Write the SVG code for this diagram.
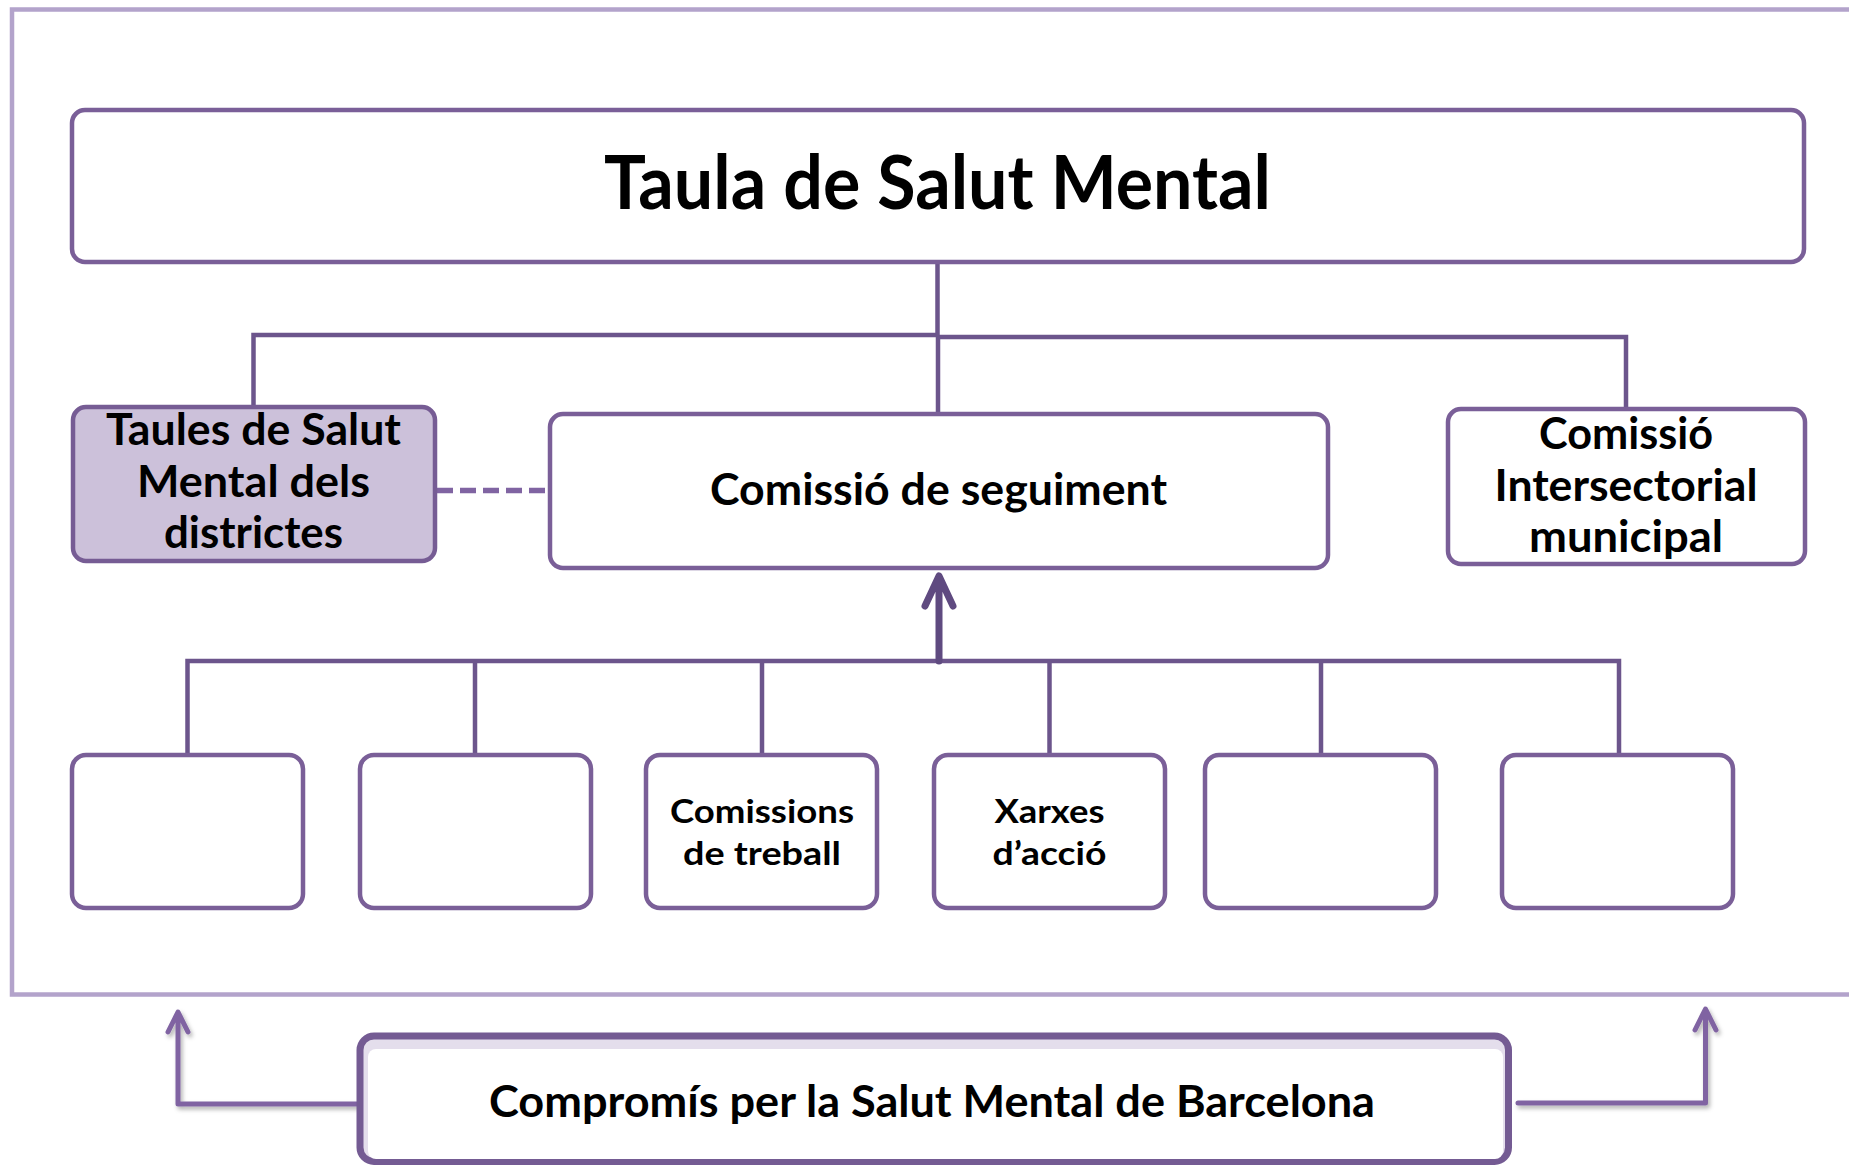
<svg xmlns="http://www.w3.org/2000/svg" width="1849" height="1169" viewBox="0 0 1849 1169">
<defs>
<style>
.box{fill:#ffffff;stroke:#7a5f98;stroke-width:4.5}
.dist{fill:#ccc1da;stroke:#765c94;stroke-width:4.5}
.conn{fill:none;stroke:#6c558c;stroke-width:4.5}
.t{font-family:Lato,"Open Sans","Liberation Sans",sans-serif;font-weight:700;fill:#000000;text-anchor:middle}
.big{font-size:74px}
.mid{font-size:44px}
.sm{font-size:33px}
.ext{fill:none;stroke:#8064a2;stroke-width:5;stroke-linecap:round;stroke-linejoin:round}
</style>
<filter id="sh" x="-20%" y="-20%" width="140%" height="140%">
<feDropShadow dx="2" dy="3" stdDeviation="2" flood-color="#000000" flood-opacity="0.3"/>
</filter>
</defs>
<rect width="1849" height="1169" fill="#ffffff"/>
<rect id="frame" x="12" y="9.5" width="1900" height="985" fill="none" stroke="#b3a3cb" stroke-width="4.5"/>

<g id="connectors">
<path class="conn" d="M937.5,262 V335 M253.5,407 V335 H938 M938,337 H1626 V409 M938,335 V414"/>
<path d="M437,490.5 H547" fill="none" stroke="#8064a2" stroke-width="5.5" stroke-dasharray="16,7"/>
<path class="conn" d="M187.5,755 V661 H1619 V755 M475,661 V755 M762,661 V755 M1049.5,661 V755 M1321,661 V755"/>
<path d="M939,661 V578 M925,606 L939,576 L953,606" fill="none" stroke="#5f4a80" stroke-width="7" stroke-linecap="round" stroke-linejoin="round"/>
<g filter="url(#sh)">
<path class="ext" d="M357,1104 H178 V1013 M168,1032 L178,1012 L188,1032"/>
<path class="ext" d="M1518,1103 H1705.5 V1010 M1695,1030 L1705.5,1009 L1716,1030"/>
</g>
</g>

<g id="taula">
<rect class="box" x="72" y="110" width="1732" height="152" rx="13"/>
<text class="t big" x="937.5" y="209" textLength="667" lengthAdjust="spacingAndGlyphs">Taula de Salut Mental</text>
</g>

<g id="districtes">
<rect class="dist" x="73" y="407" width="362" height="154" rx="13"/>
<text class="t mid" x="253.5" y="445" textLength="295" lengthAdjust="spacingAndGlyphs">Taules de Salut</text>
<text class="t mid" x="253.5" y="497" textLength="233" lengthAdjust="spacingAndGlyphs">Mental dels</text>
<text class="t mid" x="253.5" y="548" textLength="179" lengthAdjust="spacingAndGlyphs">districtes</text>
</g>

<g id="seguiment">
<rect class="box" x="550" y="414" width="778" height="154" rx="13"/>
<text class="t mid" x="938.5" y="505" textLength="457" lengthAdjust="spacingAndGlyphs">Comissió de seguiment</text>
</g>

<g id="intersectorial">
<rect class="box" x="1448" y="409" width="357" height="155" rx="13"/>
<text class="t mid" x="1626" y="449" textLength="174" lengthAdjust="spacingAndGlyphs">Comissió</text>
<text class="t mid" x="1626" y="501" textLength="263" lengthAdjust="spacingAndGlyphs">Intersectorial</text>
<text class="t mid" x="1626" y="552" textLength="194" lengthAdjust="spacingAndGlyphs">municipal</text>
</g>

<g id="b1"><rect class="box" x="72" y="755" width="231" height="153" rx="14"/></g>
<g id="b2"><rect class="box" x="360" y="755" width="231" height="153" rx="14"/></g>
<g id="b3">
<rect class="box" x="646" y="755" width="231" height="153" rx="14"/>
<text class="t sm" x="762" y="823" textLength="184" lengthAdjust="spacingAndGlyphs">Comissions</text>
<text class="t sm" x="762" y="865" textLength="158" lengthAdjust="spacingAndGlyphs">de treball</text>
</g>
<g id="b4">
<rect class="box" x="934" y="755" width="231" height="153" rx="14"/>
<text class="t sm" x="1049.5" y="823" textLength="110" lengthAdjust="spacingAndGlyphs">Xarxes</text>
<text class="t sm" x="1049.5" y="865" textLength="114" lengthAdjust="spacingAndGlyphs">d’acció</text>
</g>
<g id="b5"><rect class="box" x="1205" y="755" width="231" height="153" rx="14"/></g>
<g id="b6"><rect class="box" x="1502" y="755" width="231" height="153" rx="14"/></g>

<g id="compromis">
<rect x="360" y="1036" width="1148.5" height="125.5" rx="14" fill="#e4deec" stroke="#745b93" stroke-width="7"/>
<rect x="368" y="1049" width="1135" height="110" rx="8" fill="#ffffff"/>
<text class="t mid" x="932" y="1117" textLength="886" lengthAdjust="spacingAndGlyphs">Compromís per la Salut Mental de Barcelona</text>
</g>
</svg>
